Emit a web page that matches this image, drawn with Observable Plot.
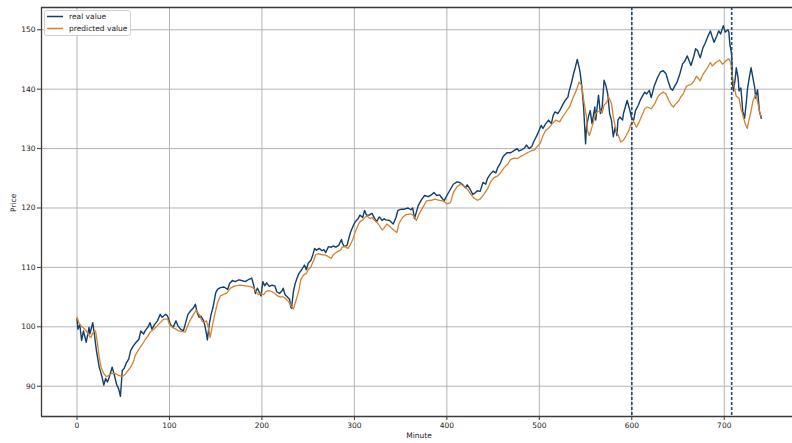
<!DOCTYPE html>
<html><head><meta charset="utf-8">
<script src="https://cdn.jsdelivr.net/npm/d3@7"></script>
<script src="https://cdn.jsdelivr.net/npm/@observablehq/plot@0.6"></script>
<style>
body{margin:0;background:#fff}
#chart{position:relative;width:792px;height:443px}
svg{font-family:"DejaVu Sans",sans-serif}
</style>
</head><body><div id="chart"></div>
<script>
const seriesNames = ["real value", "predicted value"];
const seriesColors = ["#123f6d", "#d5822f"];

const realMinute = [0,1,3,5,7,10,13,14,17,19,21,24,25,27,29,31,33,35,38,40,43,45,47,49,51,53,56,58,61,64,67,69,72,74,77,79,81,84,87,90,92,96,98,101,104,107,109,112,115,117,120,123,126,128,130,132,134,137,138,140,141,143,145,147,150,152,155,159,163,
165,168,171,175,178,182,186,189,191,193,195,196,199,201,203,205,208,211,214,216,219,222,223,225,227,230,231,232,234,236,238,240,243,246,248,250,253,255,257,259,262,265,267,269,272,275,277,280,283,286,287,289,292,294,296,299,301,304,306,309,311,313,316,319,322,324,327,330,332,
334,338,342,345,347,351,354,358,361,363,365,367,369,373,376,380,384,386,389,392,394,397,400,404,407,411,414,417,420,422,425,428,431,433,436,439,442,444,447,450,453,455,458,461,465,469,473,476,478,481,484,486,489,492,494,497,499,
502,504,507,510,513,515,517,520,522,525,528,531,532,535,537,539,541,543,544,546,548,550,551,553,555,557,560,561,564,566,568,570,572,574,576,578,580,582,584,585,587,590,591,593,595,598,600,602,604,607,609,611,614,616,619,621,624,626,628,631,634,637,639,642,644,646,649,652,655,657,660,662,664,667,669,
671,674,677,679,682,685,687,689,692,694,696,699,701,704,705,706,708,709,710,712,713,715,716,718,720,722,724,725,727,729,731,733,734,736,738,740];
const realValue = [101.3,99.6,100.4,97.7,99.3,97.4,99.9,98.8,100.7,98.5,96,93.2,92.7,91.6,90.2,91.3,90.7,91.6,93.2,92.1,90.2,89.6,88.3,92.7,93,93.8,94.6,96,96.8,97.4,97.9,99.3,98.8,99.4,100,100.7,99.6,100.4,101,102.1,101.6,102.1,101.8,100.4,99.9,101,100.2,99.6,99.3,100.4,102.1,102.7,103.2,103.8,102.4,101.6,101.8,101,100.4,98.8,97.8,100.4,102.1,103.2,105.7,106.3,106.6,106.7,106.3,
107.3,107.8,107.6,107.9,107.8,107.6,108,108.2,107,105.6,106.5,106.2,105.2,107.6,106.9,107.4,106.8,107,106.9,105.9,105.6,106.1,106.5,105.4,105.1,104.6,103.4,103.1,105.9,107.3,108.2,109,109.6,110.4,109.6,110.7,111.2,112.1,113.2,112.9,113.2,112.8,113,112.5,113.5,113.4,113.6,113.4,113.7,114.7,114.1,113.5,113.7,114.9,116,117.1,117.7,118.2,118.8,118.4,119.6,118.8,118.8,119.1,118.2,117.7,118.5,117.9,118.2,
118,117.9,117.3,118.4,119.6,119.8,119.8,120,119.7,120,118.2,119.3,120.4,121.5,122.1,121.9,122.3,122.6,122.1,122.2,121.8,121.2,122.1,123.2,124,124.4,124.3,123.9,123.4,123.9,123.2,122.3,122.6,122.9,122.8,124.3,124,125,125.7,126.2,125.9,126.8,127.6,128.7,129.3,129.3,129.7,130,129.6,129.8,130.1,130.6,130,130.4,131.2,132.1,132.8,
133.9,133.4,134.2,134.8,134.2,135.6,136.2,135.9,136.4,137.3,138.1,138.7,139.5,141.2,142.6,143.7,145,143.7,142.9,140.4,136.7,130.8,133.6,135.3,136.4,134.2,137,134.8,139,135.9,137,141.5,140.6,139.2,135.9,134.8,132,133.6,132.2,134.8,135.3,134.8,135.9,137,138.1,136.4,135,134.8,136.4,137.3,138.1,138.7,139.5,139.2,139.8,138.6,140.4,141.2,142,142.9,143.1,142.6,141.5,140.1,139.8,140.4,141.2,142.6,144.3,144.6,145.6,144.8,144,145.5,146.8,
146.5,145.3,147,147.6,148.8,149.8,148.8,147.9,149,149.8,149.3,150.7,149.6,150,149.6,147.6,145.9,140.8,139.7,141.9,143.6,141.9,139.7,140.2,136.3,135.1,138,139.9,141.9,143.6,141.9,140.2,138.5,139.9,136.3,135.1];

const predMinute = [0,2,4,7,10,13,15,17,20,22,24,26,29,32,34,37,40,43,47,50,52,55,58,61,63,66,69,72,74,77,79,83,87,90,94,98,100,103,107,110,114,117,119,122,126,129,132,135,137,140,142,144,146,149,152,155,158,162,
166,171,177,182,187,191,194,196,199,202,204,207,211,214,217,220,222,225,229,232,234,237,240,242,245,248,250,253,256,258,261,265,268,272,275,277,281,285,287,290,293,295,298,301,304,306,309,312,314,317,319,322,325,328,330,332,
335,339,343,346,348,352,356,361,364,367,370,374,378,383,387,392,396,400,404,407,411,415,418,422,426,429,433,436,440,444,447,451,455,458,462,466,469,473,476,480,484,487,491,495,498,501,
504,507,511,514,518,522,525,529,533,536,540,543,546,548,551,552,554,556,559,561,563,566,568,570,573,575,578,580,583,586,588,591,594,597,599,602,605,608,611,614,617,621,625,628,631,634,637,640,643,645,648,651,653,656,659,662,664,667,
670,674,677,681,685,687,691,695,698,702,705,707,709,711,713,716,718,721,723,725,726,729,731,734,736,738,740];
const predValue = [101.6,100.7,100.2,99.8,99.3,98.5,98.2,99,99.3,97.4,94.9,93.2,92.1,91.6,91.8,92.1,92.2,92,91.7,91.7,92,92.6,93.2,94.1,95.2,96,96.7,97.4,97.9,98.5,99.1,99.6,100.2,100.7,101.3,101.3,100.4,99.9,99.6,99.3,99.2,99.1,99.9,101,102.1,102.8,102.1,101,100.7,101,99.9,98.2,99.9,102.1,104.1,105.2,105.4,105.7,
106.5,106.9,107,106.9,106.8,106.5,105.9,105.4,105.6,105.4,105.9,106.1,105.9,105.6,105.2,105,105.1,104.8,104.2,103.4,103,104.5,106.2,107.9,108.7,109,109.6,110.1,111.2,112.1,112.3,112.1,112.1,111.8,111.5,112.1,112.6,112.9,113.4,113.5,113.2,113.6,114.6,116,117.1,117.7,118,118.5,118.6,118.2,118.4,117.9,117.5,116.8,116.3,116.6,
117.3,116.8,116.2,115.9,117.3,118.4,118.9,119,118.7,117.9,119,120.1,121.2,121.3,121.5,121.3,121.2,120.7,120.9,122.6,123.6,124,123.7,123.2,122.3,121.7,121.3,121.5,122.3,123.2,124.3,125.1,125.4,125.9,126.8,127.4,128.2,128.4,128.3,128.7,129,129.3,129.6,129.8,130.4,130.9,
132.2,133.1,133.6,134.2,134.8,134.5,135.3,136.2,137.1,138.4,139.8,141.2,140.6,138.1,135.3,133.1,132.2,133.1,134.8,135.9,136.2,136.4,136,137.3,137.8,138.7,137.6,135.3,133.1,132,131.1,131.4,132.2,133.1,134.1,134.5,133.6,134.5,135.6,136.7,137,136.7,137.6,138.7,139.2,139.5,139.2,138.1,137.3,137,137.6,138.1,138.7,139.3,140.5,140.7,140.8,141.3,
142.2,141.4,142.5,143.4,144.5,143.9,144.5,144.9,144.2,144.8,145.1,144.5,141.9,140.2,138.8,138.5,136.8,135.1,134,133.4,134.3,136.3,138,139.1,138,136.3,135.4];

const xTicks = [0,100,200,300,400,500,600,700];
const yTicks = [90,100,110,120,130,140,150];
const markerMinutes = [600, 708];

const real = realMinute.map((m,i) => ({minute: m, price: realValue[i]}));
const pred = predMinute.map((m,i) => ({minute: m, price: predValue[i]}));

const xDomain = [-38.4, 773.8];
const yDomain = [84.9, 153.75];
const frameColor = "#3a3a3a";
const gridColor = "#b4b4b4";

const chart = Plot.plot({
  width: 792, height: 443,
  marginLeft: 41, marginRight: 0, marginTop: 7, marginBottom: 27,
  style: {fontFamily: "DejaVu Sans, sans-serif", fontSize: "7.5px", color: "#222", background: "#fff"},
  x: {domain: xDomain},
  y: {domain: yDomain},
  marks: [
    Plot.gridX(xTicks, {stroke: gridColor, strokeOpacity: 1, strokeWidth: 1}),
    Plot.gridY(yTicks, {stroke: gridColor, strokeOpacity: 1, strokeWidth: 1}),
    Plot.line(real, {x: "minute", y: "price", stroke: seriesColors[0], strokeWidth: 1.4}),
    Plot.line(pred, {x: "minute", y: "price", stroke: seriesColors[1], strokeWidth: 1.3}),
    Plot.ruleX(markerMinutes, {stroke: "#1d4b78", strokeWidth: 1.6, strokeDasharray: "3,2"}),
    Plot.ruleX([xDomain[0]], {stroke: frameColor, strokeWidth: 1.3}),
    Plot.ruleY([yDomain[0], yDomain[1]], {stroke: frameColor, strokeWidth: 1.3}),
    Plot.axisX(xTicks, {tickSize: 4, tickPadding: 2, fontSize: 7.5, label: null, stroke: frameColor}),
    Plot.axisY(yTicks, {tickSize: 4, tickPadding: 2, fontSize: 7.5, label: null, stroke: frameColor}),
    Plot.text(["Minute"], {frameAnchor: "bottom", dy: 21, dx: 2, fontSize: 7.5, fill: "#222"}),
    Plot.text(["Price"], {frameAnchor: "left", dx: -28, rotate: -90, fontSize: 7.5, fill: "#222"})
  ]
});
document.getElementById("chart").appendChild(chart);

// legend
const svg = d3.select(chart);
const lg = svg.append("g").attr("font-family", "DejaVu Sans, sans-serif").attr("font-size", 7.5)
  .attr("text-anchor", "start");
lg.append("rect").attr("x", 44.5).attr("y", 10.5).attr("width", 86).attr("height", 25)
  .attr("rx", 2).attr("fill", "#fff").attr("fill-opacity", 0.85).attr("stroke", "#cfcfcf");
seriesNames.forEach((name, i) => {
  const y = 16.5 + i * 12;
  lg.append("line").attr("x1", 47).attr("x2", 63).attr("y1", y).attr("y2", y)
    .attr("stroke", seriesColors[i]).attr("stroke-width", 1.5);
  lg.append("text").attr("x", 69).attr("y", y).attr("dy", "0.35em")
    .attr("text-anchor", "start").attr("fill", "#222").text(name);
});
</script>
</body></html>
